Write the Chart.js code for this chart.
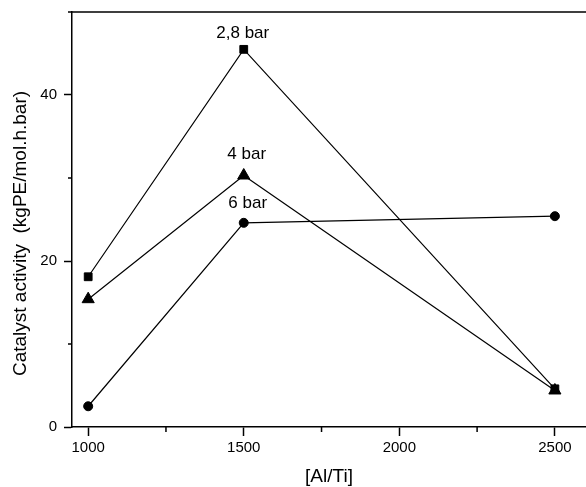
<!DOCTYPE html>
<html lang="en">
<head>
    <meta charset="UTF-8">
    <title>Catalyst activity vs [Al/Ti]</title>
    <style>
        html, body { margin: 0; padding: 0; background: #fff; overflow: hidden; }
        canvas { display: block; }
    </style>
</head>
<body>
    <canvas id="activityChart" width="586" height="487"></canvas>

    <script src="https://cdn.jsdelivr.net/npm/chart.js"></script>
    <script>
        // Al/Ti molar ratios tested
        const alTiRatio = [1000, 1500, 2500];

        // activity per pressure, kgPE/mol.h.bar
        const activity28bar = [18.1, 45.5, 4.6];
        const activity4bar = [15.4, 30.3, 4.4];
        const activity6bar = [2.5, 24.6, 25.4];

        const seriesLabels = ['2,8 bar', '4 bar', '6 bar'];
        const xTickLabels = [1000, 1500, 2000, 2500];
        const yTickLabels = [0, 20, 40];

        const FONT = '"Liberation Sans", Arial, Helvetica, sans-serif';

        const toPoints = (ys) => alTiRatio.map((x, i) => ({ x: x, y: ys[i] }));

        // short ticks for the unlabelled steps, top frame line, series names, y title
        const extras = {
            id: 'extras',
            afterDraw(chart) {
                const ctx = chart.ctx;
                const area = chart.chartArea;
                const xs = chart.scales.x;
                const ys = chart.scales.y;
                ctx.save();
                ctx.strokeStyle = '#000';
                ctx.lineWidth = 1.5;

                ctx.beginPath();
                ctx.moveTo(area.left, area.top);
                ctx.lineTo(area.right, area.top);
                xs.ticks.forEach(t => {
                    if (xTickLabels.includes(t.value)) return;
                    const px = xs.getPixelForValue(t.value);
                    ctx.moveTo(px, area.bottom);
                    ctx.lineTo(px, area.bottom + 5);
                });
                ys.ticks.forEach(t => {
                    if (yTickLabels.includes(t.value)) return;
                    const py = ys.getPixelForValue(t.value);
                    ctx.moveTo(area.left - 4, py);
                    ctx.lineTo(area.left, py);
                });
                ctx.stroke();

                // series names above the 1500 point
                const offsets = [[-1, -16], [3, -21], [4, -20]];
                ctx.fillStyle = '#000';
                ctx.font = '17px ' + FONT;
                ctx.textAlign = 'center';
                ctx.textBaseline = 'middle';
                chart.data.datasets.forEach((ds, i) => {
                    const pt = chart.getDatasetMeta(i).data[1];
                    ctx.fillText(ds.label, pt.x + offsets[i][0], pt.y + offsets[i][1]);
                });

                // y axis title
                ctx.font = '19px ' + FONT;
                ctx.translate(20.5, (area.top + area.bottom) / 2 + 14);
                ctx.rotate(-Math.PI / 2);
                ctx.fillText('Catalyst activity  (kgPE/mol.h.bar)', 0, 0);
                ctx.restore();
            }
        };

        const lineSet = (label, data, style, radius) => ({
            label: label,
            data: toPoints(data),
            borderColor: '#000',
            backgroundColor: '#000',
            borderWidth: 1.2,
            pointStyle: style,
            pointRadius: radius,
            pointBorderWidth: 1,
            pointBackgroundColor: '#000',
            pointBorderColor: '#000',
            tension: 0,
            clip: false
        });

        new Chart(document.getElementById('activityChart'), {
            type: 'line',
            data: {
                datasets: [
                    lineSet(seriesLabels[0], activity28bar, 'rect', 5.5),
                    lineSet(seriesLabels[1], activity4bar, 'triangle', 7),
                    lineSet(seriesLabels[2], activity6bar, 'circle', 4.5)
                ]
            },
            options: {
                responsive: false,
                animation: false,
                layout: {
                    autoPadding: false,
                    padding: { top: 12, left: 0, right: 0, bottom: 0 }
                },
                plugins: {
                    legend: { display: false },
                    tooltip: { enabled: false }
                },
                scales: {
                    x: {
                        type: 'linear',
                        min: 948,
                        max: 2600,
                        afterFit: (scale) => {
                            scale.height = 60;
                            scale.paddingLeft = 0;
                            scale.paddingRight = 0;
                        },
                        border: { color: '#000', width: 1.5 },
                        grid: {
                            drawOnChartArea: false,
                            tickLength: 9,
                            tickWidth: 1.5,
                            tickColor: (c) => xTickLabels.includes(c.tick && c.tick.value) ? '#000' : 'rgba(0,0,0,0)'
                        },
                        ticks: {
                            stepSize: 250,
                            includeBounds: false,
                            maxRotation: 0,
                            autoSkip: false,
                            padding: 3,
                            color: '#000',
                            font: { family: FONT, size: 15 },
                            callback: (v) => xTickLabels.includes(v) ? String(v) : ''
                        },
                        title: {
                            display: true,
                            text: '[Al/Ti]',
                            color: '#000',
                            padding: { top: 0, bottom: 0 },
                            font: { family: FONT, size: 19, lineHeight: 1.1 }
                        }
                    },
                    y: {
                        min: 0,
                        max: 50,
                        afterFit: (scale) => {
                            scale.width = 72;
                            scale.paddingTop = 0;
                            scale.paddingBottom = 0;
                        },
                        border: { color: '#000', width: 1.5 },
                        grid: {
                            drawOnChartArea: false,
                            tickLength: 8,
                            tickWidth: 1.5,
                            tickColor: (c) => yTickLabels.includes(c.tick && c.tick.value) ? '#000' : 'rgba(0,0,0,0)'
                        },
                        ticks: {
                            stepSize: 10,
                            autoSkip: false,
                            padding: 7,
                            color: '#000',
                            font: { family: FONT, size: 15 },
                            callback: (v) => yTickLabels.includes(v) ? String(v) : ''
                        }
                    }
                }
            },
            plugins: [extras]
        });
    </script>
</body>
</html>
